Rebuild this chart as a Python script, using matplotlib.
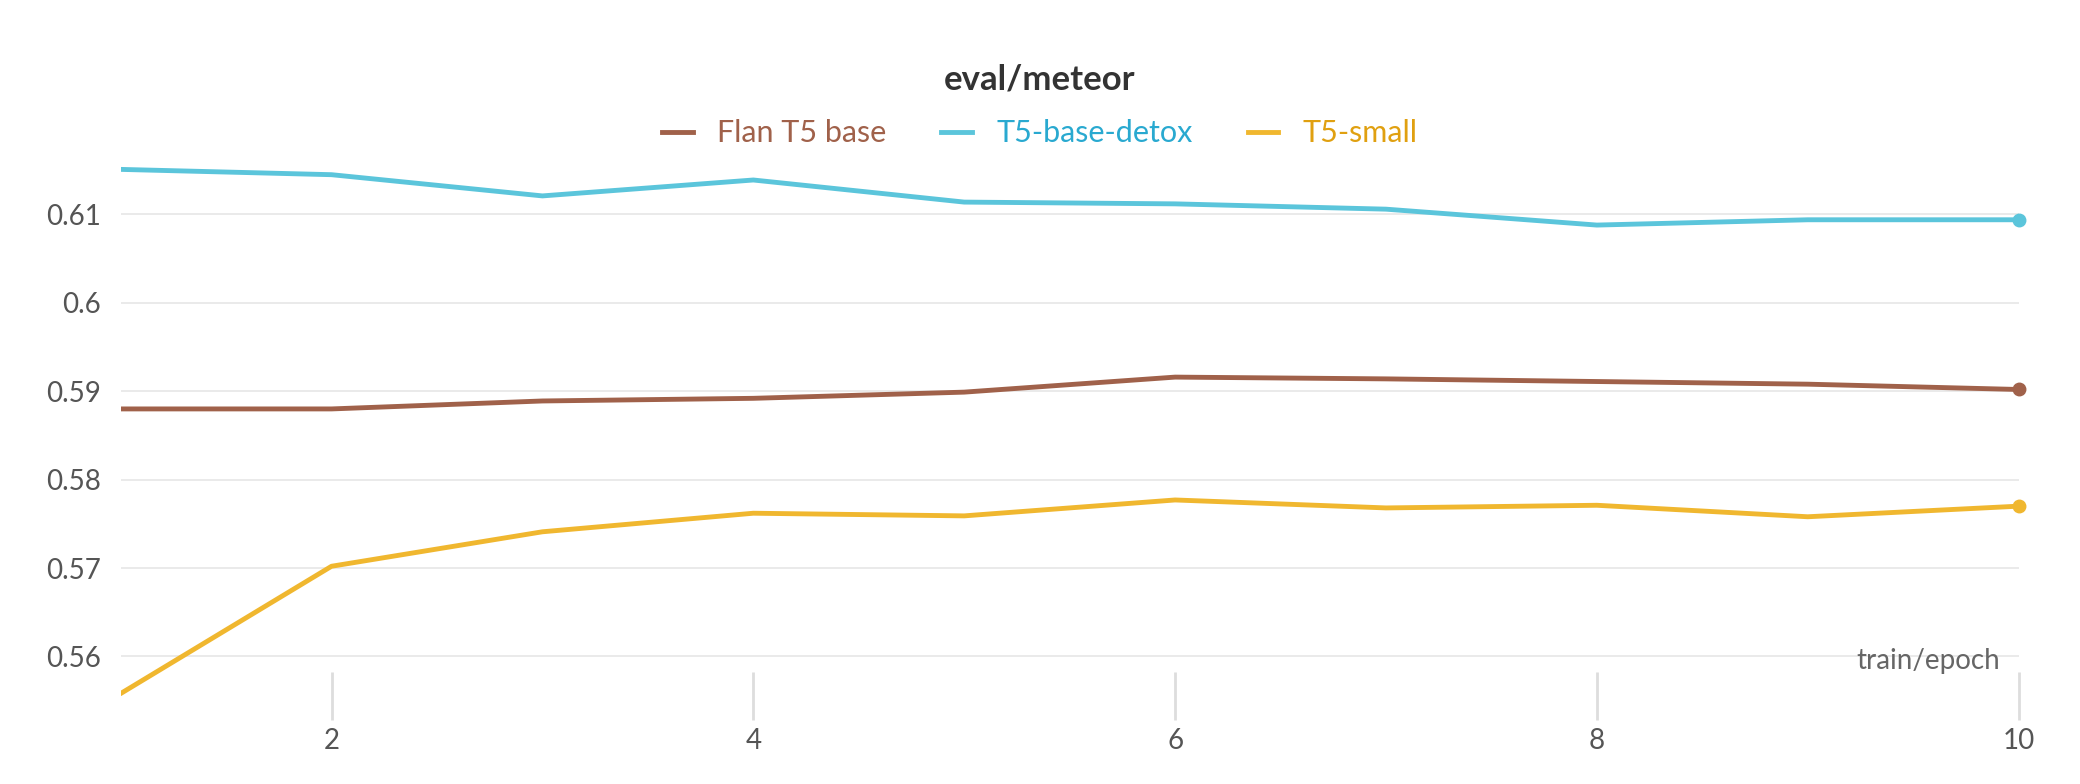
import matplotlib.pyplot as plt

plt.rcParams['font.family'] = ['Lato', 'DejaVu Sans']

epochs = [1, 2, 3, 4, 5, 6, 7, 8, 9, 10]
flan_t5_base = [0.5880, 0.5880, 0.5889, 0.5892, 0.5899, 0.5916, 0.5914, 0.5911, 0.5908, 0.5902]
t5_base_detox = [0.6151, 0.6145, 0.6121, 0.6139, 0.6114, 0.6112, 0.6106, 0.6088, 0.6094, 0.6094]
t5_small = [0.5558, 0.5702, 0.5741, 0.5762, 0.5759, 0.5777, 0.5768, 0.5771, 0.5758, 0.5770]

series = [
    ("Flan T5 base", flan_t5_base, "#a0614a"),
    ("T5-base-detox", t5_base_detox, "#5bc5db"),
    ("T5-small", t5_small, "#f0b72f"),
]
text_colors = ["#a0614a", "#29a9d0", "#e0a010"]

fig = plt.figure(figsize=(20.8, 7.84), dpi=100)
ax = fig.add_axes([0.058, 0.112, 0.9125, 0.699])

lines = []
for name, vals, color in series:
    ln, = ax.plot(epochs, vals, color=color, lw=3.5, label=name)
    ax.plot(epochs[-1], vals[-1], 'o', color=color, ms=9, clip_on=False)
    lines.append(ln)

ax.set_xlim(1, 10)
ax.set_ylim(0.5555, 0.6175)
ax.set_yticks([0.56, 0.57, 0.58, 0.59, 0.6, 0.61])
ax.set_yticklabels(["0.56", "0.57", "0.58", "0.59", "0.6", "0.61"])
ax.set_xticks([2, 4, 6, 8, 10])
ax.grid(axis='y', color='#e6e6e6', lw=1.2)
ax.set_axisbelow(True)
for s in ax.spines.values():
    s.set_visible(False)
ax.tick_params(axis='y', length=0, labelsize=20, labelcolor='#555555', pad=14)
ax.tick_params(axis='x', direction='inout', length=34, width=2, color='#dddddd',
               labelsize=20, labelcolor='#555555', pad=6)
ax.text(0.99, 0.04, "train/epoch", transform=ax.transAxes, ha='right', va='bottom',
        fontsize=20, color='#666666')

fig.text(0.5, 0.898, "eval/meteor", ha='center', va='center', fontsize=25,
         fontweight='bold', color='#333333')
leg = fig.legend(handles=lines, loc='center', bbox_to_anchor=(0.5, 0.83), ncol=3,
                 frameon=False, fontsize=22, handlelength=1.0, columnspacing=1.8,
                 handletextpad=0.8)
for t, c in zip(leg.get_texts(), text_colors):
    t.set_color(c)

fig.savefig("out.png", dpi=100)
